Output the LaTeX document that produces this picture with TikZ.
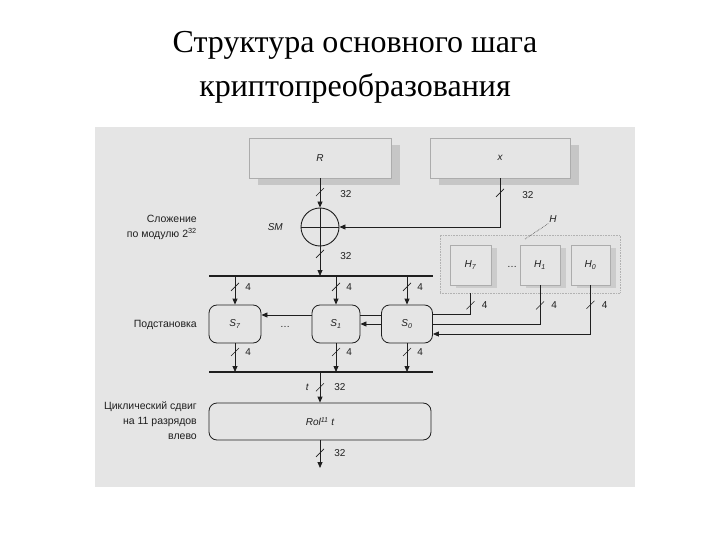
\documentclass[tikz,border=0pt]{standalone}
\usepackage{fontspec}
\setmainfont{Liberation Serif}
\setsansfont{Liberation Sans}
\usetikzlibrary{arrows.meta,shadows}
\definecolor{scanbg}{gray}{0.90}
\definecolor{ink}{gray}{0.12}
\begin{document}
\begin{tikzpicture}[x=1pt,y=-1pt,
  arr/.style={-{Triangle[length=6pt,width=5pt]}, line width=0.8pt, draw=ink},
  ln/.style={line width=0.8pt, draw=ink},
  bus/.style={line width=2.6pt, draw=ink},
  lbl/.style={font=\sffamily\fontsize{10}{11}\selectfont, text=ink, inner sep=1pt},
  sym/.style={font=\sffamily\itshape\fontsize{10}{11}\selectfont, text=ink, inner sep=1pt},
  side/.style={font=\sffamily\fontsize{10.5}{15}\selectfont, text=ink, align=right, anchor=east, inner sep=0pt},
  reg/.style={draw=gray!65, line width=0.6pt, fill=scanbg, minimum height=40pt,
    drop shadow={shadow xshift=9pt, shadow yshift=-7pt, fill=gray!45, opacity=1}},
  kbox/.style={draw=gray!65, line width=0.6pt, fill=scanbg, minimum width=40pt, minimum height=40pt,
    drop shadow={shadow xshift=6pt, shadow yshift=-3pt, fill=gray!40, opacity=1}},
  sbox/.style={draw=ink, line width=0.8pt, rounded corners=8pt, fill=scanbg, minimum height=38pt},
  tk/.pic={\draw[-, line width=0.6pt, draw=ink] (-4,4) -- (4,-4);}
]
\useasboundingbox (0,0) rectangle (720,540);
\fill[white] (0,0) rectangle (720,540);
\fill[scanbg] (95,127) rectangle (635,487);

% title
\node[font=\fontsize{32}{36}\selectfont] (title1) at (355,45) {Структура основного шага};
\node[font=\fontsize{32}{36}\selectfont] (title2) at (355,88) {криптопреобразования};

% registers
\node[reg, minimum width=142pt] (R) at (320,158) {};
\node[sym] (Rl) at (R.center) {R};
\node[reg, minimum width=140pt] (X) at (500,158) {};
\node[sym] (Xl) at (X.center) {x};

% adder
\node[circle, draw=ink, line width=0.9pt, minimum size=38pt, inner sep=0pt] (SM) at (320,227) {};
\draw[ln] (SM.north) -- (SM.south);
\draw[ln] (SM.west) -- (SM.east);
\node[sym, anchor=east] (SMl) at (284,227) {SM};

\draw[arr] (R.south) -- (SM.north) pic[pos=.47]{tk} node[lbl, pos=.55, right=19pt]{32};
\draw[arr] (X.south) |- (SM.east) pic[pos=.15]{tk} node[lbl, pos=.17, right=21pt]{32};

% buses
\coordinate (b1l) at (209,276);
\coordinate (b1r) at (433,276);
\coordinate (b2l) at (209,372);
\coordinate (b2r) at (433,372);
\draw[bus] (b1l) -- (b1r);
\draw[bus] (b2l) -- (b2r);

\draw[arr] (SM.south) -- (SM.south |- b1l) pic[pos=.25]{tk} node[lbl, pos=.33, right=19pt]{32};

% S boxes
\node[sbox, minimum width=52pt] (S7) at (235,324) {};
\node[sym] (S7l) at (S7.center) {S\textsubscript{7}};
\node[sbox, minimum width=48pt] (S1) at (336,324) {};
\node[sym] (S1l) at (S1.center) {S\textsubscript{1}};
\node[sbox, minimum width=51pt] (S0) at (407,324) {};
\node[sym] (S0l) at (S0.center) {S\textsubscript{0}};
\node[lbl] (sdots) at (285,327) {\dots};

\foreach \s in {S7,S1,S0}{
  \draw[arr] (\s.north |- b1l) -- (\s.north) pic[pos=.38]{tk} node[lbl, pos=.38, right=9pt]{4};
  \draw[arr] (\s.south) -- (\s.south |- b2l) pic[pos=.3]{tk} node[lbl, pos=.3, right=9pt]{4};
}

% links between S boxes
\draw[arr] ([yshift=9pt]S1.west) -- ([yshift=9pt]S1.west -| S7.east);
\draw[ln] ([yshift=9pt]S0.west) -- ([yshift=9pt]S0.west -| S1.east);
\draw[arr] (S0.west) -- (S0.west -| S1.east);

% key register
\node[draw=gray!60, densely dotted, line width=0.6pt, fill=gray!22, minimum width=180pt, minimum height=58pt] (H) at (530,264) {};
\node[kbox, minimum width=41pt] (H7) at (470.5,265) {};
\node[sym] (H7l) at (H7.center) {H\textsubscript{7}};
\node[lbl] (hdots) at (512,267) {\dots};
\node[kbox] (H1) at (540,265) {};
\node[sym] (H1l) at (H1.center) {H\textsubscript{1}};
\node[kbox, minimum width=39pt] (H0) at (590.5,265) {};
\node[sym] (H0l) at (H0.center) {H\textsubscript{0}};
\node[sym] (Hl) at (553,219) {H};
\draw[densely dotted, line width=0.6pt, draw=gray!50!black] (525,239) -- (Hl.south west);

\draw[ln] (H7.south |- H.south) |- ([yshift=10pt]S0.east) pic[pos=.29]{tk} node[lbl, pos=.29, right=10pt]{4};
\draw[ln] (H1.south) |- (S0.east) pic[pos=.26]{tk} node[lbl, pos=.26, right=10pt]{4};
\draw[arr] (H0.south) |- ([yshift=-10pt]S0.east) pic[pos=.2]{tk} node[lbl, pos=.2, right=10pt]{4};

% rotation
\node[sbox, minimum width=222pt, minimum height=37pt] (Rol) at (320,421.5) {};
\node[sym] (Roll) at (Rol.center) {Rol\textsuperscript{11} t};
\draw[arr] (Rol.north |- b2l) -- (Rol.north) pic[pos=.5]{tk} node[lbl, pos=.5, right=13pt]{32} node[sym, pos=.5, left=10pt]{t};
\coordinate (out) at (320,468);
\draw[arr] (Rol.south) -- (out) pic[pos=.45]{tk} node[lbl, pos=.45, right=13pt]{32};

% side labels
\node[side] (lab1) at (197,227) {Сложение\\по модулю 2\textsuperscript{32}};
\node[side] (lab2) at (197,325) {Подстановка};
\node[side] (lab3) at (197,421) {Циклический сдвиг\\на 11 разрядов\\влево};
\end{tikzpicture}
\end{document}
